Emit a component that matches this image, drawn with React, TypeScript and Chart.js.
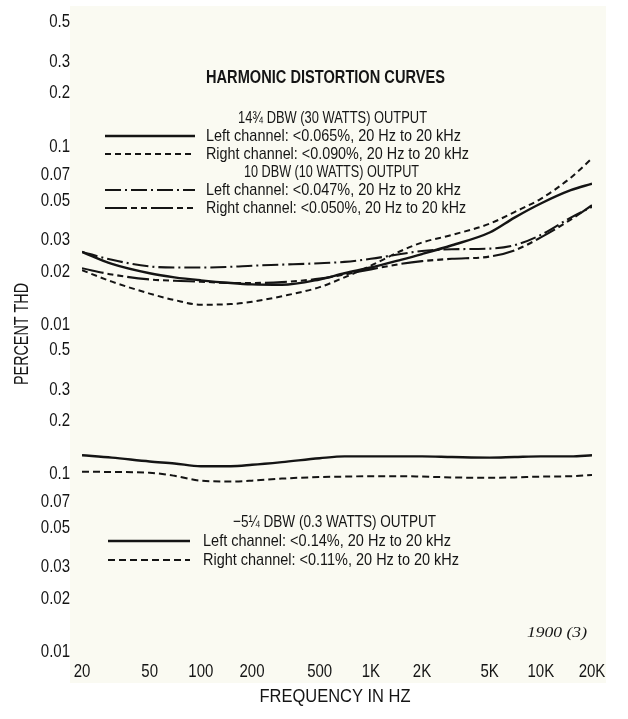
import React, { useEffect, useRef } from "react";
import { Chart, registerables } from "chart.js";

Chart.register(...registerables);

// ---------------- data ----------------
const freqHz = [20, 30, 50, 70, 100, 150, 200, 300, 500, 700, 1000, 1500, 2000, 3000, 5000, 7000, 10000, 15000, 20000];

// 14 3/4 dBW (30 W) output
const left30W = [0.0257, 0.022, 0.0195, 0.0185, 0.0178, 0.0172, 0.0169, 0.0168, 0.018, 0.0195, 0.021, 0.0232, 0.025, 0.028, 0.033, 0.04, 0.048, 0.057, 0.062];
const right30W = [0.0203, 0.0175, 0.015, 0.0138, 0.013, 0.0131, 0.0135, 0.0145, 0.0163, 0.0185, 0.0215, 0.026, 0.029, 0.032, 0.037, 0.043, 0.051, 0.067, 0.086];
// 10 dBW (10 W) output
const left10W = [0.0257, 0.0232, 0.0213, 0.021, 0.021, 0.0212, 0.0215, 0.0218, 0.0222, 0.0226, 0.0235, 0.025, 0.026, 0.0266, 0.0268, 0.028, 0.032, 0.04, 0.046];
const right10W = [0.0208, 0.0192, 0.018, 0.0177, 0.0175, 0.0172, 0.0172, 0.0174, 0.0182, 0.0192, 0.0205, 0.022, 0.0228, 0.0235, 0.0242, 0.0262, 0.031, 0.039, 0.047];
// -5 1/4 dBW (0.3 W) output
const left03W = [0.128, 0.124, 0.118, 0.115, 0.111, 0.111, 0.113, 0.117, 0.123, 0.126, 0.126, 0.126, 0.126, 0.125, 0.124, 0.125, 0.126, 0.126, 0.128];
const right03W = [0.1033, 0.103, 0.102, 0.098, 0.092, 0.091, 0.092, 0.0945, 0.0965, 0.097, 0.0975, 0.0975, 0.097, 0.096, 0.0955, 0.096, 0.097, 0.0975, 0.099];

const yTickValues = [0.01, 0.02, 0.03, 0.05, 0.07, 0.1, 0.2, 0.3, 0.5];
const yTickLabels = ["0.01", "0.02", "0.03", "0.05", "0.07", "0.1", "0.2", "0.3", "0.5"];
const xTickValues = [20, 50, 100, 200, 500, 1000, 2000, 5000, 10000, 20000];
const xTickLabels = ["20", "50", "100", "200", "500", "1K", "2K", "5K", "10K", "20K"];

const chartTitle = "HARMONIC DISTORTION CURVES";
const head30W = "14¾ DBW (30 WATTS) OUTPUT";
const head10W = "10 DBW (10 WATTS) OUTPUT";
const head03W = "−5¼ DBW (0.3 WATTS) OUTPUT";
const labelLeft30W = "Left channel: <0.065%, 20 Hz to 20 kHz";
const labelRight30W = "Right channel: <0.090%, 20 Hz to 20 kHz";
const labelLeft10W = "Left channel: <0.047%, 20 Hz to 20 kHz";
const labelRight10W = "Right channel: <0.050%, 20 Hz to 20 kHz";
const labelLeft03W = "Left channel: <0.14%, 20 Hz to 20 kHz";
const labelRight03W = "Right channel: <0.11%, 20 Hz to 20 kHz";
const yAxisTitle = "PERCENT THD";
const xAxisTitle = "FREQUENCY IN HZ";
const figureNote = "1900 (3)";

// ---------------- styles ----------------
const W = 628;
const H = 719;
const PLOT_LEFT = 82;
const PLOT_RIGHT = 592;
const TOP_PANEL = { top: 22, bottom: 325 };
const BOTTOM_PANEL = { top: 350, bottom: 652 };
const INK = "#151515";
const LINE = "#141414";
const PAPER = "#fafaf2";
const SANS = "'Liberation Sans', Arial, sans-serif";
const NARROW_SCALE = 0.79;
const TICK_SIZE = 19;

const STYLE_SOLID = { dash: [] as number[], width: 2.4 };
const STYLE_DASH = { dash: [6, 4], width: 2.0 };
const STYLE_DASHDOT = { dash: [16, 4, 2, 4], width: 2.1 };
const STYLE_LONGSHORT = { dash: [22, 4, 6, 4, 6, 4], width: 2.1 };
const STYLE_DASH_LOW = { dash: [7, 4], width: 2.0 };

function makeSeries(values: number[]) {
  return freqHz.map((f, i) => ({ x: f, y: values[i] }));
}

function lineDataset(label: string, values: number[], style: { dash: number[]; width: number }) {
  return {
    label,
    data: makeSeries(values),
    borderColor: LINE,
    borderWidth: style.width,
    borderDash: style.dash,
    pointRadius: 0,
    fill: false,
    cubicInterpolationMode: "monotone" as const,
  };
}

type TextOpts = { align?: "left" | "center" | "right"; family?: string; style?: string; weight?: string; rotate?: number };

function drawScaledText(ctx: CanvasRenderingContext2D, text: string, x: number, y: number, scaleX: number, size: number, opts: TextOpts = {}) {
  ctx.save();
  ctx.font = `${opts.style || "normal"} ${opts.weight || "normal"} ${size}px ${opts.family || SANS}`;
  ctx.fillStyle = INK;
  ctx.textBaseline = "middle";
  ctx.textAlign = "left";
  const natural = ctx.measureText(text).width;
  ctx.translate(x, y);
  if (opts.rotate) ctx.rotate(opts.rotate);
  ctx.scale(scaleX, 1);
  const startX = opts.align === "center" ? -natural / 2 : opts.align === "right" ? -natural : 0;
  ctx.fillText(text, startX, 0);
  ctx.restore();
}

function drawFitText(ctx: CanvasRenderingContext2D, text: string, x: number, y: number, width: number, size: number, opts: TextOpts = {}) {
  ctx.save();
  ctx.font = `${opts.style || "normal"} ${opts.weight || "normal"} ${size}px ${opts.family || SANS}`;
  const natural = ctx.measureText(text).width;
  ctx.restore();
  drawScaledText(ctx, text, x, y, width / natural, size, opts);
}

function drawSample(ctx: CanvasRenderingContext2D, x1: number, x2: number, y: number, style: { dash: number[]; width: number }) {
  ctx.save();
  ctx.strokeStyle = LINE;
  ctx.lineWidth = style.width;
  ctx.setLineDash(style.dash);
  ctx.beginPath();
  ctx.moveTo(x1, y);
  ctx.lineTo(x2, y);
  ctx.stroke();
  ctx.restore();
}

// condensed tick labels placed by the chart's own scales
const narrowTicksPlugin = {
  id: "narrowTicks",
  afterDraw(chart: any) {
    const ctx = chart.ctx as CanvasRenderingContext2D;
    const ys = chart.scales.y;
    yTickValues.forEach((v, i) => {
      drawScaledText(ctx, yTickLabels[i], ys.right - 12, ys.getPixelForValue(v), NARROW_SCALE, TICK_SIZE, { align: "right" });
    });
    const xs = chart.scales.x;
    if (xs.options.display) {
      xTickValues.forEach((v, i) => {
        drawScaledText(ctx, xTickLabels[i], xs.getPixelForValue(v), xs.top + 20, NARROW_SCALE, TICK_SIZE, { align: "center" });
      });
    }
  },
};

const topTextPlugin = {
  id: "topTexts",
  afterDraw(chart: any) {
    const ctx = chart.ctx as CanvasRenderingContext2D;
    drawFitText(ctx, chartTitle, 206, 78, 239, 18, { weight: "bold" });
    drawFitText(ctx, head30W, 238, 118, 189, 17);
    drawSample(ctx, 105, 195, 136, STYLE_SOLID);
    drawFitText(ctx, labelLeft30W, 206, 136, 255, 17);
    drawSample(ctx, 105, 195, 154, STYLE_DASH);
    drawFitText(ctx, labelRight30W, 206, 154, 263, 17);
    drawFitText(ctx, head10W, 244, 172, 175, 17);
    drawSample(ctx, 105, 195, 190, STYLE_DASHDOT);
    drawFitText(ctx, labelLeft10W, 206, 190, 255, 17);
    drawSample(ctx, 105, 195, 208, STYLE_LONGSHORT);
    drawFitText(ctx, labelRight10W, 206, 208, 260, 17);
    drawFitText(ctx, yAxisTitle, 22, 334, 102, 20, { align: "center", rotate: -Math.PI / 2 });
  },
};

const bottomTextPlugin = {
  id: "bottomTexts",
  afterDraw(chart: any) {
    const ctx = chart.ctx as CanvasRenderingContext2D;
    drawFitText(ctx, head03W, 233, 522, 203, 17);
    drawSample(ctx, 108, 190, 541, STYLE_SOLID);
    drawFitText(ctx, labelLeft03W, 203, 541, 248, 17);
    drawSample(ctx, 108, 190, 560, STYLE_DASH_LOW);
    drawFitText(ctx, labelRight03W, 203, 560, 256, 17);
    drawFitText(ctx, xAxisTitle, 335, 697, 151, 18, { align: "center" });
    drawFitText(ctx, figureNote, 557, 633, 60, 14, { align: "center", family: "'Liberation Serif', serif", style: "italic" });
  },
};

function makeOptions(panel: "top" | "bottom") {
  const isTop = panel === "top";
  return {
    responsive: false,
    maintainAspectRatio: false,
    animation: false,
    layout: {
      padding: isTop
        ? { top: TOP_PANEL.top, bottom: H - TOP_PANEL.bottom, left: 0, right: W - PLOT_RIGHT }
        : { top: BOTTOM_PANEL.top, bottom: 0, left: 0, right: W - PLOT_RIGHT },
    },
    plugins: { legend: { display: false }, tooltip: { enabled: false }, title: { display: false } },
    scales: {
      x: {
        type: "logarithmic",
        min: 20,
        max: 20000,
        display: !isTop,
        grid: { display: false, drawTicks: false },
        border: { display: false },
        afterBuildTicks: (s: any) => {
          s.ticks = xTickValues.map((v) => ({ value: v }));
        },
        afterFit: (s: any) => {
          s.height = isTop ? 0 : H - BOTTOM_PANEL.bottom;
        },
        ticks: { display: false, autoSkip: false, maxRotation: 0 },
      },
      y: {
        type: "logarithmic",
        min: 0.01,
        max: 0.5,
        grid: { display: false, drawTicks: false },
        border: { display: false },
        afterBuildTicks: (s: any) => {
          s.ticks = yTickValues.map((v) => ({ value: v }));
        },
        afterFit: (s: any) => {
          s.width = PLOT_LEFT;
        },
        ticks: { display: false, autoSkip: false },
      },
    },
  };
}

export default function App() {
  const topRef = useRef<HTMLCanvasElement | null>(null);
  const bottomRef = useRef<HTMLCanvasElement | null>(null);

  useEffect(() => {
    if (!topRef.current || !bottomRef.current) return;
    const top = new Chart(topRef.current, {
      type: "line",
      data: {
        datasets: [
          lineDataset(labelLeft30W, left30W, STYLE_SOLID),
          lineDataset(labelRight30W, right30W, STYLE_DASH),
          lineDataset(labelLeft10W, left10W, STYLE_DASHDOT),
          lineDataset(labelRight10W, right10W, STYLE_LONGSHORT),
        ],
      },
      options: makeOptions("top") as any,
      plugins: [narrowTicksPlugin, topTextPlugin],
    });
    const bottom = new Chart(bottomRef.current, {
      type: "line",
      data: {
        datasets: [
          lineDataset(labelLeft03W, left03W, STYLE_SOLID),
          lineDataset(labelRight03W, right03W, STYLE_DASH_LOW),
        ],
      },
      options: makeOptions("bottom") as any,
      plugins: [narrowTicksPlugin, bottomTextPlugin],
    });
    return () => {
      top.destroy();
      bottom.destroy();
    };
  }, []);

  const canvasStyle: React.CSSProperties = { position: "absolute", left: 0, top: 0, width: W, height: H };
  return (
    <div style={{ position: "absolute", left: 0, top: 0, width: W, height: H, background: "#ffffff", overflow: "hidden" }}>
      <div style={{ position: "absolute", left: 70, top: 6, width: 536, height: 677, background: PAPER }} />
      <canvas ref={topRef} width={W} height={H} style={canvasStyle} />
      <canvas ref={bottomRef} width={W} height={H} style={canvasStyle} />
    </div>
  );
}
